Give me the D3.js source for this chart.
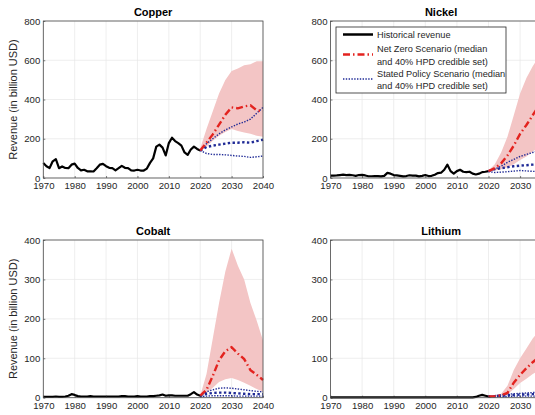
<!DOCTYPE html>
<html>
<head>
<meta charset="utf-8">
<script src="https://cdn.jsdelivr.net/npm/d3@7"></script>
<style>
  html, body { margin: 0; padding: 0; background: #fff; }
  svg { display: block; font-family: "Liberation Sans", Arial, sans-serif; }
  .tick text { fill: #262626; font-size: 9.6px; }
</style>
</head>
<body>
<svg id="chart" width="535" height="415"></svg>
<script>
// historical years 1970..2020, projection years every two years
const histYears = d3.range(1970, 2021);
const projYears = [2020, 2022, 2024, 2026, 2028, 2030, 2032, 2034, 2036, 2038, 2040];
const xTicks = [1970, 1980, 1990, 2000, 2010, 2020, 2030, 2040];

// Copper
const copperHist = [76, 60, 51, 85, 96, 50, 59, 51, 50, 68, 73, 51, 39, 42, 34, 34, 33, 50, 68, 72,
  60, 52, 50, 39, 50, 62, 52, 50, 39, 38, 42, 38, 38, 48, 77, 100, 160, 170, 155, 115,
  178, 205, 188, 178, 165, 130, 118, 145, 160, 148, 140];
const copperNzMed = [140, 180, 222, 272, 322, 360, 355, 365, 370, 345, 340];
const copperNzHi = [150, 250, 340, 430, 500, 545, 558, 575, 580, 595, 595];
const copperNzLo = [140, 160, 190, 215, 235, 250, 240, 232, 225, 215, 210];
const copperSpMed = [140, 158, 165, 170, 175, 180, 180, 182, 180, 188, 195];
const copperSpHi = [140, 175, 200, 225, 245, 260, 275, 285, 300, 330, 360];
const copperSpLo = [140, 125, 120, 120, 118, 115, 112, 110, 105, 108, 112];

// Nickel
const nickelHist = [12, 12, 13, 15, 17, 15, 16, 14, 11, 15, 16, 13, 9, 9, 10, 10, 8, 11, 26, 22,
  15, 13, 11, 8, 10, 14, 12, 12, 8, 11, 15, 10, 11, 17, 25, 27, 42, 68, 35, 22,
  35, 42, 32, 30, 32, 22, 18, 22, 30, 32, 35];
const nickelNzMed = [35, 50, 75, 115, 165, 225, 270, 320, 370, 420, 460];
const nickelNzHi = [38, 70, 130, 210, 320, 430, 510, 570, 620, 660, 700];
const nickelNzLo = [33, 38, 45, 55, 70, 92, 110, 135, 155, 175, 195];
const nickelSpMed = [35, 45, 50, 55, 60, 63, 65, 68, 70, 72, 75];
const nickelSpHi = [35, 45, 60, 80, 95, 110, 120, 130, 140, 150, 160];
const nickelSpLo = [33, 28, 30, 32, 35, 38, 36, 34, 33, 33, 33];

// Cobalt
const cobaltHist = [2, 2, 2, 2, 3, 2, 2, 3, 5, 9, 7, 4, 3, 3, 3, 4, 3, 3, 3, 3,
  3, 3, 3, 3, 3, 4, 4, 3, 3, 3, 4, 3, 3, 3, 4, 4, 5, 6, 8, 5,
  6, 6, 5, 5, 5, 5, 5, 9, 14, 8, 5];
const cobaltNzMed = [5, 20, 55, 95, 118, 128, 112, 98, 70, 58, 45];
const cobaltNzHi = [5, 60, 150, 240, 320, 378, 335, 300, 240, 195, 145];
const cobaltNzLo = [3, 12, 25, 40, 47, 50, 45, 38, 30, 22, 15];
const cobaltSpMed = [5, 10, 12, 13, 13, 12, 11, 10, 9, 9, 9];
const cobaltSpHi = [5, 15, 20, 24, 25, 24, 22, 20, 18, 16, 15];
const cobaltSpLo = [3, 4, 5, 5, 5, 5, 4, 4, 4, 4, 4];

// Lithium
const lithiumHist = [1, 1, 1, 1, 1, 1, 1, 1, 1, 1, 1, 1, 1, 1, 1, 1, 1, 1, 1, 1,
  1, 1, 1, 1, 1, 1, 1, 1, 1, 1, 1, 1, 1, 1, 1, 1, 1, 1, 1, 1,
  1, 1, 1, 1, 1, 1, 2, 5, 7, 5, 3];
const lithiumNzMed = [3, 4, 6, 12, 38, 58, 75, 90, 103, 115, 125];
const lithiumNzHi = [4, 6, 10, 30, 70, 100, 125, 150, 170, 190, 210];
const lithiumNzLo = [3, 3, 4, 8, 22, 37, 48, 60, 70, 78, 85];
const lithiumSpMed = [3, 4, 5, 6, 7, 8, 8, 9, 9, 10, 10];
const lithiumSpHi = [3, 5, 7, 9, 10, 11, 12, 13, 14, 15, 16];
const lithiumSpLo = [3, 3, 3, 3, 4, 4, 4, 4, 4, 5, 5];

const legendLabels = [
  ['Historical revenue'],
  ['Net Zero Scenario (median', 'and 40% HPD credible set)'],
  ['Stated Policy Scenario (median', 'and 40% HPD credible set)']
];

const RED = '#e3231f';
const PINK = '#f3c5c5';
const BLUE = '#1f2a96';

const panels = [
  { title: 'Copper', hist: copperHist, nzMed: copperNzMed, nzHi: copperNzHi, nzLo: copperNzLo,
    spMed: copperSpMed, spHi: copperSpHi, spLo: copperSpLo, yMax: 800, yStep: 200,
    left: 43.3, right: 263, top: 21, bottom: 178, ylabel: true },
  { title: 'Nickel', hist: nickelHist, nzMed: nickelNzMed, nzHi: nickelNzHi, nzLo: nickelNzLo,
    spMed: nickelSpMed, spHi: nickelSpHi, spLo: nickelSpLo, yMax: 800, yStep: 200,
    left: 330.5, right: 551.7, top: 21, bottom: 178, ylabel: false },
  { title: 'Cobalt', hist: cobaltHist, nzMed: cobaltNzMed, nzHi: cobaltNzHi, nzLo: cobaltNzLo,
    spMed: cobaltSpMed, spHi: cobaltSpHi, spLo: cobaltSpLo, yMax: 400, yStep: 100,
    left: 43.3, right: 263, top: 240, bottom: 397.7, ylabel: true },
  { title: 'Lithium', hist: lithiumHist, nzMed: lithiumNzMed, nzHi: lithiumNzHi, nzLo: lithiumNzLo,
    spMed: lithiumSpMed, spHi: lithiumSpHi, spLo: lithiumSpLo, yMax: 400, yStep: 100,
    left: 330.5, right: 551.7, top: 240, bottom: 397.7, ylabel: false }
];

const svg = d3.select('#chart');

panels.forEach(p => drawPanel(p));
drawLegend();

function drawPanel(p) {
  const x = d3.scaleLinear().domain([1970, 2040]).range([p.left, p.right]);
  const y = d3.scaleLinear().domain([0, p.yMax]).range([p.bottom, p.top]);
  const yTicks = d3.range(0, p.yMax + 1, p.yStep);
  const g = svg.append('g');

  // grid
  g.append('g').selectAll('line.gx').data(xTicks).join('line')
    .attr('x1', d => x(d)).attr('x2', d => x(d))
    .attr('y1', p.top).attr('y2', p.bottom)
    .attr('stroke', '#e6e6e6').attr('stroke-width', 0.7);
  g.append('g').selectAll('line.gy').data(yTicks).join('line')
    .attr('x1', p.left).attr('x2', p.right)
    .attr('y1', d => y(d)).attr('y2', d => y(d))
    .attr('stroke', '#e6e6e6').attr('stroke-width', 0.7);

  // net zero band
  const area = d3.area()
    .x((d, i) => x(projYears[i]))
    .y0((d, i) => y(p.nzLo[i]))
    .y1(d => y(d));
  g.append('path').datum(p.nzHi).attr('d', area).attr('fill', PINK);

  const line = (xs) => d3.line().x((d, i) => x(xs[i])).y(d => y(d));

  // historical
  g.append('path').datum(p.hist).attr('d', line(histYears))
    .attr('fill', 'none').attr('stroke', '#000').attr('stroke-width', 2.2)
    .attr('stroke-linejoin', 'round');

  // stated policy bounds (thin dotted) and median (thick dotted)
  [p.spHi, p.spLo].forEach(s => {
    g.append('path').datum(s).attr('d', line(projYears))
      .attr('fill', 'none').attr('stroke', BLUE).attr('stroke-width', 1.4)
      .attr('stroke-dasharray', '1.4,1.4');
  });
  g.append('path').datum(p.spMed).attr('d', line(projYears))
    .attr('fill', 'none').attr('stroke', BLUE).attr('stroke-width', 2.4)
    .attr('stroke-dasharray', '2.4,2.4');

  // net zero median
  g.append('path').datum(p.nzMed).attr('d', line(projYears))
    .attr('fill', 'none').attr('stroke', RED).attr('stroke-width', 2.4)
    .attr('stroke-dasharray', '7,3,1.5,3');

  // axes
  const xAxis = d3.axisBottom(x).tickValues(xTicks).tickFormat(d3.format('d'))
    .tickSizeInner(-2).tickSizeOuter(0).tickPadding(4);
  const yAxis = d3.axisLeft(y).tickValues(yTicks).tickFormat(d3.format('d'))
    .tickSizeInner(-2).tickSizeOuter(0).tickPadding(3);
  const gx = g.append('g').attr('transform', `translate(0,${p.bottom})`).call(xAxis);
  const gy = g.append('g').attr('transform', `translate(${p.left},0)`).call(yAxis);
  [gx, gy].forEach(a => {
    a.select('.domain').remove();
    a.selectAll('.tick line').attr('stroke', '#262626').attr('stroke-width', 0.6);
    a.selectAll('.tick text').attr('font-family', null).attr('font-size', null);
  });

  // box
  g.append('rect')
    .attr('x', p.left).attr('y', p.top)
    .attr('width', p.right - p.left).attr('height', p.bottom - p.top)
    .attr('fill', 'none').attr('stroke', '#4a4a4a').attr('stroke-width', 0.8);

  // title
  g.append('text')
    .attr('x', (p.left + p.right) / 2).attr('y', p.top - 5.5)
    .attr('text-anchor', 'middle')
    .attr('font-size', 11).attr('font-weight', 'bold').attr('fill', '#000')
    .text(p.title);

  if (p.ylabel) {
    g.append('text')
      .attr('transform', `translate(17,${(p.top + p.bottom) / 2}) rotate(-90)`)
      .attr('text-anchor', 'middle')
      .attr('font-size', 11).attr('fill', '#262626')
      .text('Revenue (in billion USD)');
  }
}

function drawLegend() {
  const lg = svg.append('g');
  lg.append('rect')
    .attr('x', 336).attr('y', 27).attr('width', 170).attr('height', 66)
    .attr('fill', '#fff').attr('stroke', '#262626').attr('stroke-width', 0.8);

  const sampleY = [34.5, 54.5, 79];
  const styles = [
    { stroke: '#000', width: 2.5, dash: null },
    { stroke: RED, width: 2.4, dash: '7,3,1.5,3' },
    { stroke: BLUE, width: 1.4, dash: '1.4,1.4' }
  ];
  styles.forEach((s, i) => {
    lg.append('line')
      .attr('x1', 343).attr('x2', 373)
      .attr('y1', sampleY[i]).attr('y2', sampleY[i])
      .attr('stroke', s.stroke).attr('stroke-width', s.width)
      .attr('stroke-dasharray', s.dash);
  });

  const textY = [[38], [52, 64.5], [76.5, 89]];
  legendLabels.forEach((lines, i) => {
    lines.forEach((t, j) => {
      lg.append('text')
        .attr('x', 377).attr('y', textY[i][j])
        .attr('font-size', 9.2).attr('fill', '#262626')
        .text(t);
    });
  });
}
</script>
</body>
</html>
